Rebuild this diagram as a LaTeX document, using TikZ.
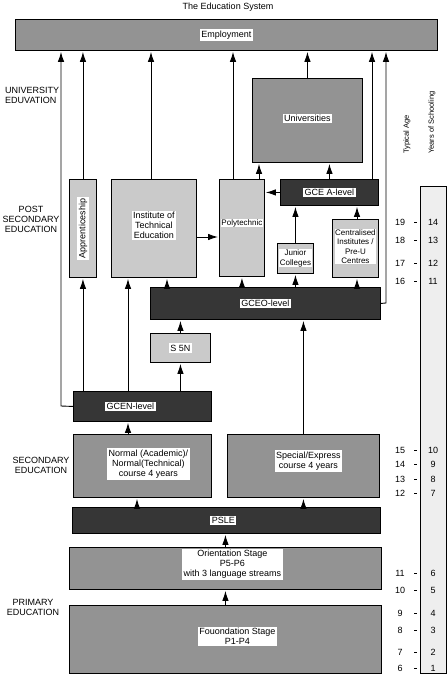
\documentclass[tikz,border=0pt]{standalone}
\usepackage{fontspec}
\setmainfont{Liberation Sans}
\usetikzlibrary{arrows.meta}
\definecolor{midstip}{HTML}{939393}
\definecolor{ltstip}{HTML}{CACACA}
\definecolor{dkstip}{HTML}{363636}
\definecolor{dotgrey}{HTML}{EEEEEE}
\begin{document}
\begin{tikzpicture}[x=1pt,y=-1pt,
	box/.style={draw,line width=0.9pt,anchor=north west,inner sep=0pt},
	midbox/.style={box,fill=midstip},
	ltbox/.style={box,fill=ltstip},
	dkbox/.style={box,fill=dkstip},
	txt/.style={inner sep=0pt,align=center,font=\fontsize{9}{10}\selectfont},
	tag/.style={txt,fill=white,inner sep=1.5pt},
	small/.style={font=\fontsize{8}{9.5}\selectfont,inner sep=0.5pt},
	arr/.style={line width=0.9pt,-{Latex[length=10pt,width=6.5pt]},shorten >=1pt}]
		%
		\useasboundingbox (0,0) rectangle (447,676);
		\node[txt] (ttl) at (228,7) {The Education System};
		%
		\node[midbox,minimum width=422,minimum height=31] (emp) at (15,19) {};
		\node[tag] at (emp) {Employment};
		\node[midbox,minimum width=110,minimum height=84] (uni) at (252,78) {};
		\node[tag] at ([yshift=2pt]uni.center) {Universities};
		\node[ltbox,minimum width=27,minimum height=98] (app) at (69,179) {};
		\node[tag,rotate=90] at (app) {Apprenticeship};
		\node[ltbox,minimum width=85,minimum height=98] (ite) at (111,179) {};
		\node[tag] at ([yshift=3pt]ite.center) {Institute of\\Technical\\Education};
		\node[ltbox,minimum width=45,minimum height=97] (poly) at (219,179) {};
		\node[tag,small] at ([yshift=5pt]poly.center) {Polytechnic};
		\node[dkbox,minimum width=98,minimum height=26] (gcea) at (280,179) {};
		\node[tag] at (gcea) {GCE A-level};
		\node[ltbox,minimum width=36,minimum height=30] (jc) at (277,243) {};
		\node[tag,small] at (jc) {Junior\\Colleges};
		\node[ltbox,minimum width=46,minimum height=58] (cpu) at (332,219) {};
		\node[tag,small] at ([yshift=2pt]cpu.center) {Centralised\\Institutes /\\Pre-U\\Centres};
		%
		\node[dkbox,minimum width=230,minimum height=32] (gceo) at (150,287) {};
		\node[tag] at (gceo) {GCEO-level};
		\node[ltbox,minimum width=60,minimum height=29] (s5n) at (150,333) {};
		\node[tag] at (s5n) {S 5N};
		\node[dkbox,minimum width=138,minimum height=30] (gcen) at (73,391) {};
		\node[tag] at ([xshift=-12pt]gcen.center) {GCEN-level};
		\node[midbox,minimum width=138,minimum height=63] (nor) at (73,434) {};
		\node[tag] at ([xshift=6pt,yshift=2pt]nor.center) {Normal (Academic)/\\Normal(Technical)\\course 4 years};
		\node[midbox,minimum width=152,minimum height=63] (spx) at (227,434) {};
		\node[tag] at ([xshift=5pt,yshift=5pt]spx.center) {Special/Express\\course 4 years};
		\node[dkbox,minimum width=308,minimum height=26] (psle) at (72,507) {};
		\node[tag] at ([xshift=-3pt]psle.center) {PSLE};
		\node[midbox,minimum width=312,minimum height=42] (ori) at (69,547) {};
		\node[tag] at ([xshift=7pt,yshift=4pt]ori.center) {Orientation Stage\\P5-P6\\with 3 language streams};
		\node[midbox,minimum width=312,minimum height=68] (fou) at (69,605) {};
		\node[tag] at ([xshift=12pt,yshift=3pt]fou.center) {Fouondation Stage\\P1-P4};
		%
		\node[txt,align=left,anchor=west] (uedu) at (5,95) {UNIVERSITY\\EDUVATION};
		\node[txt] (pedu) at (31,219) {POST\\SECONDARY\\EDUCATION};
		\node[txt] (sedu) at (41,465) {SECONDARY\\EDUCATION};
		\node[txt] (predu) at (33,607) {PRIMARY\\EDUCATION};
		%
		\node[box,fill=dotgrey,minimum width=26,minimum height=487] (yrs) at (420,186) {};
		\node[txt,font=\fontsize{7.5}{8}\selectfont,rotate=90,anchor=west] (age) at (407,154) {Typical Age};
		\node[txt,font=\fontsize{7.5}{8}\selectfont,rotate=90,anchor=west] (sch) at (432,154) {Years of Schooling};
		\foreach \ag/\yr/\yy in {19/14/222,18/13/240,17/12/263,16/11/281,15/10/450,14/9/464,13/8/479,12/7/493,11/6/573,10/5/590,9/4/613,8/3/630,7/2/652,6/1/668}{
			\node[txt] at (400,\yy) {\ag};
			\draw[line width=0.6pt] (414,\yy) -- (417,\yy);
			\node[txt] at (433,\yy) {\yr};
		}
		%
		\coordinate (c61) at (61,406);
		\coordinate (c386) at (386,303);
		\coordinate (c151) at (151,0);
		\coordinate (c233) at (233,0);
		\coordinate (c259) at (259,0);
		\coordinate (c372) at (372,0);
		\coordinate (c128) at (128,0);
		\coordinate (c167) at (167,0);
		\coordinate (c357) at (357,0);
		\coordinate (c137) at (137,0);
		\coordinate (r237) at (0,237);
		%
		\draw[arr] (gcen.west) -- (c61) -- (c61 |- emp.south);
		\draw[arr] (app.north) -- (app.north |- emp.south);
		\draw[arr] (ite.north -| c151) -- (c151 |- emp.south);
		\draw[arr] (poly.north -| c233) -- (c233 |- emp.south);
		\draw[arr] (uni.north) -- (uni.north |- emp.south);
		\draw[arr] (gcea.north -| c372) -- (c372 |- emp.south);
		\draw[arr] (gceo.east) -- (c386) -- (c386 |- emp.south);
		%
		\draw[arr] (poly.north -| c259) -- (c259 |- uni.south);
		\draw[arr] (gcea.north) -- (gcea.north |- uni.south);
		\draw[arr] (gcea.west) -- (gcea.west -| poly.east);
		\draw[arr] (ite.east |- r237) -- (poly.west |- r237);
		\draw[arr] (jc.north) -- (jc.north |- gcea.south);
		\draw[arr] (cpu.north -| c357) -- (c357 |- gcea.south);
		%
		\draw[arr] (gceo.north -| c167) -- (c167 |- ite.south);
		\draw[arr] (gceo.north -| poly) -- (poly.south);
		\draw[arr] (gceo.north -| jc) -- (jc.south);
		\draw[arr] (gceo.north -| c357) -- (c357 |- cpu.south);
		\draw[arr] (s5n.north) -- (s5n.north |- gceo.south);
		\draw[arr] (spx.north) -- (spx.north |- gceo.south);
		%
		\draw[arr] (gcen.north -| app) -- (app.south);
		\draw[arr] (gcen.north -| c128) -- (c128 |- ite.south);
		\draw[arr] (gcen.north -| s5n) -- (s5n.south);
		\draw[arr] (nor.north -| c128) -- (c128 |- gcen.south);
		%
		\draw[arr] (psle.north -| c137) -- (c137 |- nor.south);
		\draw[arr] (psle.north -| spx) -- (spx.south);
		\draw[arr] (ori.north) -- (ori.north |- psle.south);
		\draw[arr] (fou.north) -- (fou.north |- ori.south);
\end{tikzpicture}
\end{document}
